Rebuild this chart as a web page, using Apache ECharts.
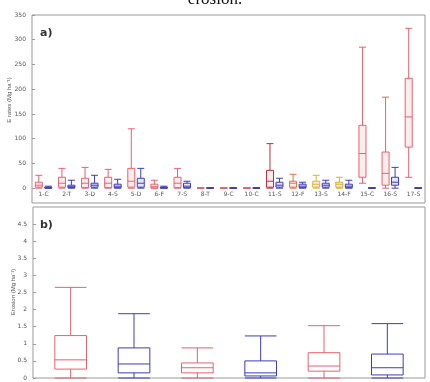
<!DOCTYPE html>
<html><head><meta charset="utf-8">
<script src="https://cdn.jsdelivr.net/npm/echarts@6/dist/echarts.min.js"></script>
<style>html,body{margin:0;padding:0;background:#fff}#c{width:430px;height:382px}</style>
</head><body><div id="c"></div>
<script>
// ---- Panel a data ----
const groupLabels = ['1-C','2-T','3-D','4-S','5-D','6-F','7-S','8-T','9-C','10-C','11-S','12-F','13-S','14-F','15-C','16-S','17-S'];
const redBoxes = [
  [0, 2, 6, 12, 26],
  [0, 2, 10, 22, 40],
  [0, 1, 10, 20, 42],
  [0, 1, 10, 22, 38],
  [0, 2, 14, 40, 120],
  [0, 0, 3, 8, 16],
  [0, 1, 10, 22, 40],
  [0, 0, 0, 0.5, 1],
  [0, 0, 0, 0.5, 1],
  [0, 0, 0, 0.5, 1],
  [0, 2, 14, 36, 90],
  [0, 2, 10, 14, 28],
  [0, 2, 8, 14, 26],
  [0, 2, 8, 12, 22],
  [10, 22, 70, 127, 285],
  [0, 6, 30, 73, 184],
  [22, 83, 144, 222, 323]
];
const blueBoxes = [
  [0, 0, 1, 2, 4],
  [0, 1, 3, 6, 16],
  [0, 2, 6, 10, 26],
  [0, 1, 4, 8, 18],
  [0, 2, 10, 20, 40],
  [0, 0, 1, 2, 4],
  [0, 1, 4, 10, 14],
  [0, 0, 0, 0.5, 1],
  [0, 0, 0, 0.5, 1],
  [0, 0, 0, 0.5, 1],
  [0, 2, 6, 12, 20],
  [0, 1, 4, 8, 12],
  [0, 2, 6, 10, 16],
  [0, 1, 4, 8, 16],
  [0, 0, 0, 0.5, 1],
  [0, 6, 12, 22, 42],
  [0, 0, 0, 0.5, 1]
];
const aTicks = [0, 50, 100, 150, 200, 250, 300, 350];

// ---- Panel b data ----
const bCategories = ['B1','B2','B3','B4','B5','B6'];
const bBoxes = [
  [0, 0.26, 0.53, 1.24, 2.65],
  [0, 0.15, 0.41, 0.88, 1.88],
  [0, 0.15, 0.30, 0.44, 0.88],
  [0, 0.06, 0.15, 0.50, 1.23],
  [0, 0.20, 0.35, 0.74, 1.53],
  [0, 0.09, 0.30, 0.70, 1.59]
];

// ---- styles ----
const RED = '#e8606e', BLUE = '#3c3cc0';
const redGroupColors = [RED,RED,RED,RED,RED,RED,RED,RED,RED,RED,'#b83040','#e07040','#e0b030','#d4b028',RED,RED,RED];
const bColors = [RED, BLUE, RED, BLUE, RED, BLUE];
const AX = '#999';
const lblStyle = {color:'#555', fontSize:6, fontFamily:'DejaVu Sans'};

const chart = echarts.init(document.getElementById('c'));
chart.setOption({
  animation:false,
  graphic:[
    {type:'text', x:215, y:0, style:{text:'erosion.', fontSize:17, fontFamily:'Liberation Serif', fill:'#111', align:'center', verticalAlign:'middle'}},
    {type:'text', left:40, top:28, style:{text:'a)', fontSize:11, fontWeight:'bold', fontFamily:'DejaVu Sans', fill:'#333'}},
    {type:'text', left:40, top:220, style:{text:'b)', fontSize:11, fontWeight:'bold', fontFamily:'DejaVu Sans', fill:'#333'}},
    {type:'rect', shape:{x:33, y:207, width:392, height:171}, style:{fill:'none', stroke:AX, lineWidth:1}},
    {type:'text', x:9, y:100, rotation:Math.PI/2, style:{text:'E rates (Mg ha⁻¹)', fontSize:6, fill:'#555', align:'center', verticalAlign:'middle'}},
    {type:'text', x:13, y:292, rotation:Math.PI/2, style:{text:'Erosion (Mg ha⁻¹)', fontSize:6, fill:'#555', align:'center', verticalAlign:'middle'}}
  ],
  grid:[
    {left:32, right:5, top:15, height:188, show:true, borderColor:AX, borderWidth:1, backgroundColor:'transparent'},
    {left:39, right:11, top:207, bottom:4}
  ],
  xAxis:[
    {type:'category', gridIndex:0, data:groupLabels,
     axisLine:{show:false}, axisTick:{show:false},
     axisLabel:{...lblStyle, margin:-12, interval:0}},
    {type:'category', gridIndex:1, data:bCategories,
     axisLine:{show:false}, axisTick:{show:false}, axisLabel:{show:false}}
  ],
  yAxis:[
    {type:'value', gridIndex:0, min:-30, max:350,
     axisLine:{show:false}, splitLine:{show:false},
     axisTick:{show:true, inside:true, length:3, lineStyle:{color:AX}, customValues:aTicks},
     axisLabel:{...lblStyle, margin:6, customValues:aTicks}},
    {type:'value', gridIndex:1, min:0, max:5, interval:0.5, offset:6,
     axisLine:{show:false}, splitLine:{show:false},
     axisTick:{show:true, inside:true, length:3, lineStyle:{color:AX}},
     axisLabel:{...lblStyle, margin:6, showMaxLabel:false}}
  ],
  series:[
    {type:'boxplot', xAxisIndex:0, yAxisIndex:0, name:'red',
     data: redBoxes.map((v,i)=>({value:v, itemStyle:{color:'rgba(240,150,160,0.18)', borderColor:redGroupColors[i], borderWidth:1}})),
     itemStyle:{color:'rgba(240,150,160,0.18)', borderColor:RED, borderWidth:1}},
    {type:'boxplot', xAxisIndex:0, yAxisIndex:0, name:'blue',
     data: blueBoxes,
     itemStyle:{color:'rgba(120,120,230,0.18)', borderColor:BLUE, borderWidth:1}},
    {type:'boxplot', xAxisIndex:1, yAxisIndex:1, boxWidth:['50%','50%'],
     data: bBoxes.map((v,i)=>({value:v, itemStyle:{color:'rgba(255,255,255,0)', borderColor:bColors[i], borderWidth:1}})),
     itemStyle:{color:'rgba(255,255,255,0)', borderWidth:1}}
  ]
});
</script>
</body></html>
